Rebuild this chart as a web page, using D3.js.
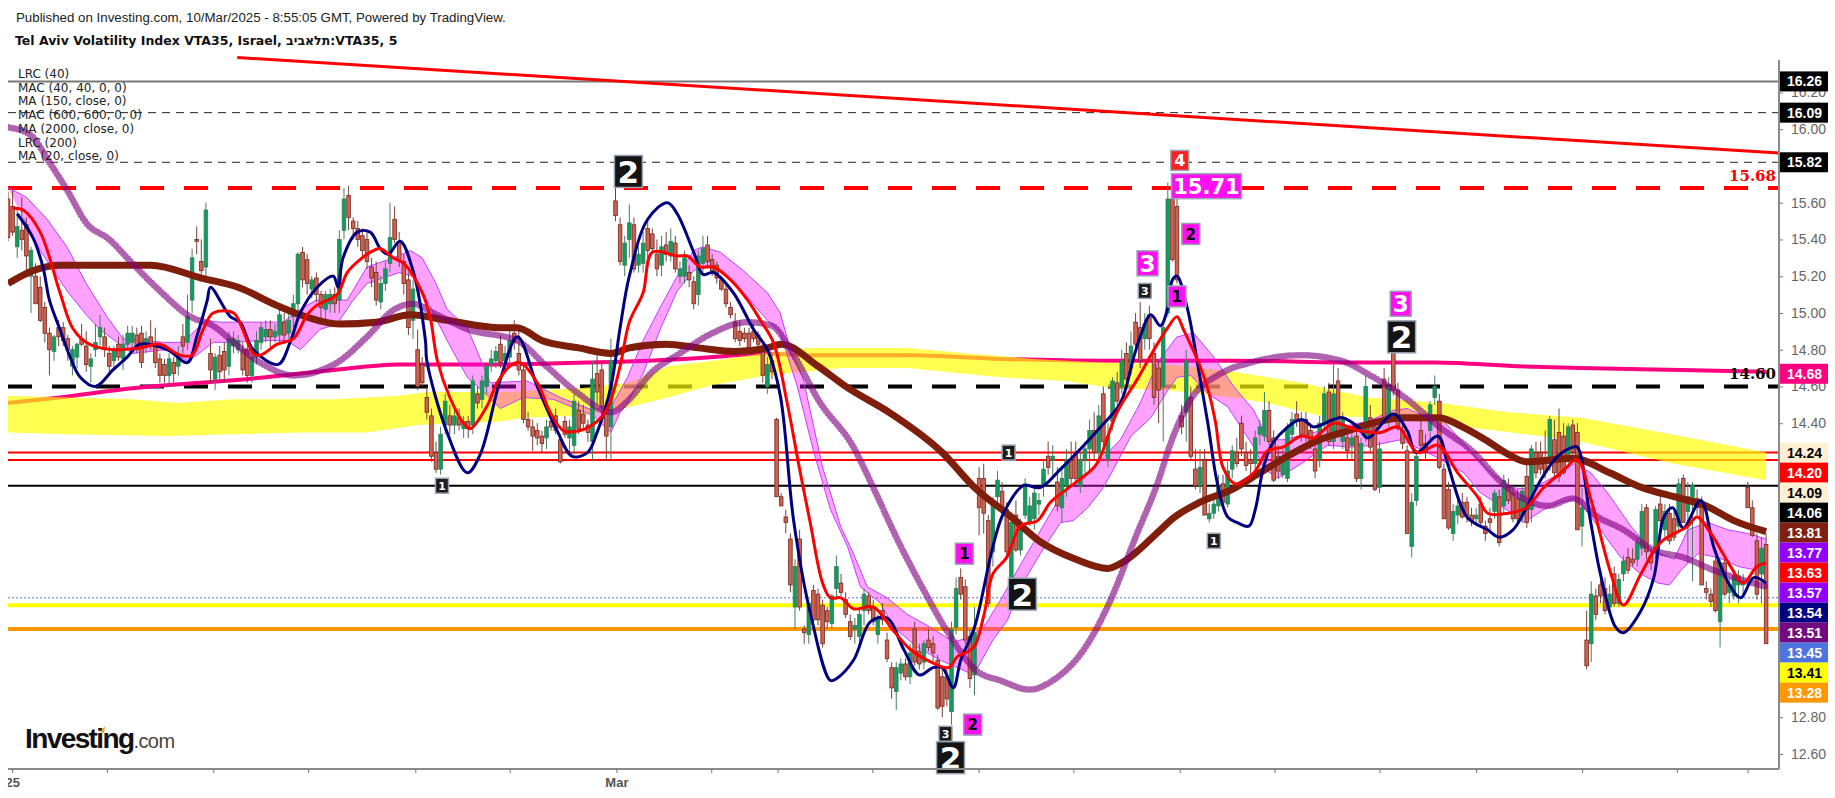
<!DOCTYPE html>
<html lang="en">
	<head>
		<meta charset="utf-8">
		<title>Tel Aviv Volatility Index VTA35</title>
		<script type="text/javascript" src="https://cdn.jsdelivr.net/npm/d3@7/dist/d3.min.js"></script>
		<style type="text/css">
			html, body { margin: 0; padding: 0; background: #fff; }
			svg { display: block; }
			text { font-family: "Liberation Sans", Arial, sans-serif; }
		</style>
	</head>
	<body>
		<script type="text/javascript">

			//Header and legend text
			var publishedText = "Published on Investing.com, 10/Mar/2025 - 8:55:05 GMT, Powered by TradingView.";
			var titleText = "Tel Aviv Volatility Index VTA35, Israel, תלאביב:VTA35, 5";
			var legendLines = ["LRC (40)", "MAC (40, 40, 0, 0)", "MA (150, close, 0)", "MAC (600, 600, 0, 0)", "MA (2000, close, 0)", "LRC (200)", "MA (20, close, 0)"];

			//Axis ticks (x in bar numbers, one bar = 10 minutes on this read-off)
			var priceTicks = [16.2, 16.0, 15.6, 15.4, 15.2, 15.0, 14.8, 14.6, 14.4, 12.8, 12.6];
			var barTicks = [0.9, 21.5, 44.6, 65.2, 88.5, 109, 132.2, 152.8, 167.2, 187.8, 210.9, 231.5, 254.6, 275.2, 298, 319, 342, 362.6, 378];
			var barTickNames = {0.9: "25", 132.2: "Mar"};

			//Horizontal levels
			var grayLevel = 16.26;
			var thinDashLevels = [16.09, 15.82];
			var redDashLevel = 15.68;
			var blackDashLevel = 14.60;
			var redLevels = [14.24, 14.20];
			var blackLevel = 14.06;
			var blueDotLevel = 13.45;
			var yellowLevel = 13.41;
			var orangeLevel = 13.28;

			//Red down trend line
			var trendLine = [[49.8, 16.39], [384.8, 15.87]];

			//Candles: open, high, low, close
			var candles = [
				[15.62,15.66,15.39,15.41],[15.58,15.67,15.42,15.44],[15.36,15.56,15.3,15.47],[15.45,15.63,15.34,15.4],[15.48,15.52,15.2,15.31],[15.2,15.36,15.0,15.34],[15.2,15.27,15.05,15.05],[15.14,15.2,14.95,14.96],[15.03,15.06,14.84,14.89],[14.89,14.92,14.66,14.8],
				[14.79,14.88,14.74,14.87],[14.92,14.96,14.82,14.87],[14.92,14.95,14.82,14.85],[14.86,14.88,14.74,14.8],[14.71,14.82,14.66,14.8],[14.76,14.84,14.7,14.83],[14.86,14.94,14.82,14.83],[14.82,14.9,14.68,14.72],[14.71,14.78,14.62,14.75],[14.8,14.94,14.76,14.84],
				[14.87,14.99,14.82,14.92],[14.87,14.92,14.76,14.8],[14.78,14.82,14.68,14.71],[14.74,14.82,14.7,14.79],[14.83,14.87,14.74,14.76],[14.75,14.88,14.69,14.83],[14.83,14.93,14.8,14.89],[14.84,14.93,14.8,14.89],[14.88,14.92,14.78,14.8],[14.89,14.93,14.7,14.73],
				[14.82,14.9,14.78,14.86],[14.87,14.96,14.8,14.82],[14.83,14.92,14.7,14.73],[14.75,14.78,14.62,14.66],[14.72,14.75,14.62,14.66],[14.66,14.78,14.6,14.75],[14.73,14.76,14.62,14.67],[14.71,14.82,14.66,14.78],[14.87,14.94,14.78,14.82],[14.84,15.1,14.8,14.98],
				[15.07,15.35,15.0,15.3],[15.4,15.47,15.32,15.39],[15.28,15.4,15.2,15.23],[15.25,15.6,15.2,15.56],[14.78,14.86,14.62,14.69],[14.64,14.78,14.58,14.76],[14.77,14.82,14.64,14.68],[14.79,14.84,14.62,14.69],[14.71,14.9,14.66,14.86],[14.82,14.9,14.78,14.86],
				[14.8,14.88,14.78,14.85],[14.8,14.84,14.66,14.69],[14.8,14.84,14.62,14.66],[14.66,14.78,14.62,14.76],[14.76,14.9,14.72,14.85],[14.84,14.95,14.8,14.92],[14.87,14.96,14.84,14.91],[14.91,14.96,14.8,14.87],[14.87,14.94,14.84,14.9],[14.88,15.05,14.84,14.99],
				[14.95,15.0,14.85,14.88],[14.89,15.0,14.86,14.96],[14.98,15.1,14.92,15.05],[15.05,15.33,15.0,15.32],[15.33,15.36,15.14,15.18],[15.29,15.32,15.1,15.16],[15.13,15.2,15.08,15.18],[15.19,15.22,15.06,15.1],[15.1,15.12,14.96,15.03],[15.02,15.12,14.94,15.1],
				[15.05,15.13,15.0,15.1],[15.1,15.14,15.0,15.05],[15.07,15.45,15.0,15.4],[15.45,15.68,15.4,15.62],[15.64,15.69,15.45,15.52],[15.5,15.52,15.4,15.46],[15.46,15.5,15.36,15.4],[15.42,15.46,15.3,15.34],[15.4,15.44,15.24,15.28],[15.25,15.3,15.14,15.19],
				[15.22,15.28,15.04,15.07],[15.06,15.2,15.02,15.16],[15.16,15.28,15.12,15.24],[15.27,15.6,15.22,15.41],[15.51,15.58,15.38,15.4],[15.39,15.44,15.25,15.28],[15.28,15.32,15.1,15.16],[15.18,15.22,14.88,14.92],[14.96,15.18,14.86,15.13],[14.8,14.91,14.58,14.6],
				[14.72,14.76,14.6,14.62],[14.54,14.6,14.42,14.46],[14.44,14.48,14.19,14.22],[14.24,14.3,14.13,14.15],[14.15,14.38,14.12,14.34],[14.39,14.56,14.34,14.52],[14.44,14.5,14.34,14.39],[14.39,14.48,14.34,14.44],[14.43,14.48,14.36,14.39],[14.37,14.44,14.32,14.41],
				[14.41,14.44,14.32,14.37],[14.39,14.66,14.34,14.63],[14.56,14.6,14.48,14.51],[14.53,14.66,14.48,14.63],[14.6,14.72,14.56,14.71],[14.72,14.8,14.68,14.75],[14.74,14.82,14.7,14.79],[14.83,14.88,14.7,14.73],[14.74,14.82,14.72,14.78],[14.76,14.92,14.72,14.85],
				[14.89,14.96,14.8,14.84],[14.78,14.92,14.66,14.69],[14.69,14.72,14.4,14.42],[14.42,14.46,14.36,14.38],[14.38,14.42,14.25,14.33],[14.36,14.4,14.28,14.32],[14.33,14.36,14.24,14.29],[14.32,14.42,14.26,14.38],[14.41,14.46,14.36,14.38],[14.44,14.48,14.34,14.36],
				[14.31,14.34,14.18,14.19],[14.41,14.44,14.32,14.34],[14.32,14.42,14.24,14.38],[14.28,14.56,14.23,14.52],[14.47,14.52,14.34,14.37],[14.45,14.5,14.36,14.4],[14.39,14.42,14.3,14.35],[14.3,14.74,14.2,14.64],[14.67,14.78,14.5,14.57],[14.69,14.74,14.42,14.49],
				[14.49,14.52,14.2,14.33],[14.38,14.86,14.2,14.74],[15.61,15.68,15.5,15.53],[15.48,15.52,15.26,15.28],[15.26,15.42,15.2,15.38],[15.4,15.59,15.3,15.49],[15.48,15.52,15.22,15.24],[15.26,15.36,15.22,15.32],[15.27,15.44,15.22,15.38],[15.46,15.52,15.3,15.34],
				[15.43,15.46,15.32,15.35],[15.32,15.4,15.2,15.24],[15.26,15.42,15.2,15.36],[15.37,15.44,15.28,15.32],[15.31,15.46,15.28,15.39],[15.38,15.42,15.22,15.24],[15.2,15.28,15.16,15.24],[15.2,15.34,15.16,15.3],[15.22,15.26,15.14,15.18],[15.17,15.2,15.02,15.05],
				[15.1,15.34,15.04,15.31],[15.27,15.42,15.22,15.35],[15.37,15.42,15.26,15.28],[15.29,15.32,15.2,15.23],[15.26,15.28,15.16,15.19],[15.18,15.2,15.12,15.13],[15.13,15.16,15.03,15.05],[15.03,15.06,14.97,14.99],[14.95,15.0,14.84,14.86],[14.9,14.96,14.82,14.85],
				[14.89,14.92,14.84,14.86],[14.89,14.92,14.78,14.81],[14.9,14.94,14.84,14.86],[14.88,14.9,14.8,14.83],[14.8,14.84,14.62,14.66],[14.6,14.76,14.56,14.72],[14.74,14.78,14.64,14.68],[14.42,14.43,14.0,14.0],[14.0,14.02,13.95,13.95],[13.89,13.93,13.8,13.86],
				[13.77,13.8,13.48,13.52],[13.4,13.66,13.28,13.62],[13.77,13.82,13.38,13.4],[13.28,13.3,13.2,13.26],[13.25,13.42,13.2,13.42],[13.49,13.52,13.3,13.33],[13.47,13.5,13.3,13.33],[13.41,13.44,13.18,13.2],[13.38,13.4,13.28,13.32],[13.31,13.47,13.28,13.46],
				[13.5,13.68,13.44,13.62],[13.53,13.58,13.46,13.48],[13.44,13.48,13.34,13.36],[13.32,13.36,13.22,13.24],[13.28,13.34,13.2,13.3],[13.24,13.4,13.2,13.36],[13.38,13.5,13.3,13.47],[13.46,13.48,13.36,13.38],[13.4,13.44,13.3,13.32],[13.25,13.36,13.2,13.34],
				[13.38,13.42,13.3,13.33],[13.22,13.26,13.1,13.12],[13.07,13.1,12.9,12.96],[12.94,13.1,12.84,13.07],[13.04,13.12,13,13.09],[13.09,13.12,13.0,13.02],[13.02,13.2,12.98,13.15],[13.28,13.32,13.08,13.1],[13.16,13.2,13.06,13.09],[13.1,13.22,13.06,13.2],
				[13.22,13.28,13.16,13.18],[13.2,13.24,13.1,13.15],[13.11,13.14,12.84,12.85],[13.02,13.08,12.8,12.86],[13.02,13.06,12.86,12.9],[12.83,13.32,12.76,13.28],[13.29,13.56,13.25,13.5],[13.56,13.61,13.44,13.47],[13.51,13.55,13.2,13.22],[13.24,13.28,12.96,13.01],
				[13.03,13.4,12.92,13.26],[14.1,14.16,13.79,13.94],[14.1,14.18,13.8,13.91],[13.87,13.9,13.4,13.42],[13.7,14.0,13.62,13.96],[14.0,14.14,13.94,14.09],[14.03,14.08,13.9,13.94],[13.93,13.97,13.68,13.7],[13.56,13.9,13.52,13.86],[13.9,13.98,13.7,13.71],
				[13.71,13.88,13.68,13.86],[13.9,14.1,13.88,14.07],[13.86,14.0,13.84,13.95],[13.88,14.06,13.82,14.02],[13.96,14.02,13.9,13.98],[14.06,14.2,14.0,14.15],[14.22,14.3,14.12,14.16],[14.2,14.28,14.1,14.22],[14.08,14.16,13.92,13.95],[13.94,14.16,13.86,14.1],
				[14.06,14.26,14.0,14.2],[14.2,14.3,14.05,14.1],[14.24,14.3,14.06,14.1],[14.06,14.24,14.02,14.2],[14.2,14.3,14.1,14.26],[14.26,14.42,14.14,14.36],[14.36,14.46,14.2,14.24],[14.24,14.5,14.2,14.44],[14.56,14.6,14.25,14.3],[14.2,14.4,14.16,14.33],
				[14.41,14.65,14.36,14.63],[14.62,14.68,14.5,14.52],[14.6,14.8,14.56,14.74],[14.78,14.84,14.62,14.64],[14.7,14.9,14.66,14.82],[14.95,15.0,14.8,14.83],[14.92,15.06,14.7,14.74],[14.86,15.0,14.8,14.94],[14.99,15.04,14.8,14.86],[14.78,14.84,14.5,14.54],
				[14.7,14.74,14.4,14.58],[14.6,14.94,14.3,14.92],[15.0,15.71,14.98,15.62],[15.62,15.68,15.28,15.29],[15.58,15.64,15.16,15.18],[14.44,14.5,14.34,14.38],[14.46,14.8,14.3,14.74],[14.54,14.6,14.2,14.22],[14.15,14.26,14.04,14.06],[14.06,14.26,14.02,14.16],
				[14.2,14.26,13.9,13.9],[13.88,13.96,13.86,13.91],[13.91,14.0,13.88,13.96],[13.95,14.12,13.92,14.06],[14.07,14.12,13.95,13.97],[13.96,14.2,13.94,14.14],[14.15,14.28,14.1,14.25],[14.24,14.32,14.16,14.18],[14.4,14.44,14.22,14.26],[14.24,14.3,14.14,14.17],
				[14.2,14.26,14.12,14.18],[14.18,14.36,14.14,14.32],[14.34,14.42,14.28,14.38],[14.33,14.57,14.3,14.47],[14.47,14.52,14.28,14.3],[14.32,14.36,14.08,14.09],[14.22,14.28,14.1,14.14],[14.12,14.26,14.1,14.2],[14.1,14.4,14.08,14.38],[14.34,14.46,14.3,14.42],
				[14.45,14.52,14.38,14.41],[14.41,14.46,14.3,14.34],[14.42,14.46,14.3,14.33],[14.36,14.4,14.26,14.28],[14.26,14.3,14.1,14.14],[14.2,14.44,14.16,14.4],[14.4,14.6,14.36,14.56],[14.57,14.62,14.28,14.3],[14.3,14.72,14.26,14.56],[14.63,14.7,14.32,14.33],
				[14.3,14.46,14.26,14.42],[14.32,14.36,14.2,14.25],[14.28,14.36,14.2,14.32],[14.33,14.36,14.08,14.1],[14.1,14.32,14.04,14.29],[14.33,14.66,14.3,14.6],[14.43,14.5,14.24,14.27],[14.38,14.42,14.03,14.04],[14.05,14.3,14.02,14.26],[14.64,14.7,14.4,14.41],
				[14.42,14.65,14.38,14.6],[14.8,14.82,14.55,14.58],[14.58,14.62,14.36,14.37],[14.36,14.4,14.26,14.29],[14.25,14.28,13.8,13.8],[13.73,14.02,13.67,13.97],[13.98,14.25,13.95,14.22],[14.36,14.44,14.25,14.28],[14.29,14.34,14.2,14.24],[14.36,14.52,14.3,14.5],
				[14.54,14.66,14.5,14.6],[14.52,14.56,14.15,14.16],[14.15,14.18,13.88,13.88],[14.04,14.08,13.82,13.83],[13.8,13.96,13.76,13.92],[13.9,14.0,13.85,13.95],[13.97,14.02,13.88,13.89],[13.97,14.0,13.86,13.9],[13.9,13.94,13.84,13.87],[13.88,13.94,13.84,13.9],
				[13.96,14.0,13.84,13.86],[13.84,13.87,13.76,13.8],[13.88,13.94,13.8,13.86],[13.92,14.04,13.88,14.02],[14.0,14.04,13.73,13.75],[13.95,14.12,13.9,14.09],[14.05,14.1,13.96,13.98],[14.02,14.06,13.86,13.88],[13.99,14.04,13.86,13.88],[13.9,14.06,13.86,14.03],
				[14.11,14.18,13.83,13.86],[13.93,14.28,13.86,14.26],[14.24,14.3,14.1,14.13],[14.24,14.3,14.12,14.15],[14.2,14.36,14.1,14.13],[14.18,14.44,14.14,14.42],[14.31,14.42,14.1,14.13],[14.35,14.48,14.08,14.11],[14.33,14.4,14.12,14.13],[14.22,14.4,14.18,14.38],
				[14.39,14.42,14.2,14.24],[14.35,14.4,13.82,13.82],[13.84,14.05,13.73,13.94],[13.22,13.38,13.06,13.08],[13.2,13.54,13.1,13.47],[13.46,13.5,13.33,13.36],[13.52,13.6,13.42,13.46],[13.5,13.56,13.36,13.38],[13.4,13.52,13.36,13.47],[13.58,13.62,13.4,13.42],
				[13.42,13.58,13.4,13.55],[13.58,13.68,13.54,13.65],[13.67,13.72,13.58,13.6],[13.66,13.72,13.62,13.64],[13.66,13.78,13.62,13.75],[13.72,13.96,13.68,13.92],[13.94,13.96,13.66,13.7],[13.68,13.72,13.6,13.64],[13.7,13.95,13.66,13.93],[13.96,14.02,13.84,13.87],
				[13.82,13.96,13.78,13.92],[13.91,13.96,13.74,13.76],[13.88,13.92,13.76,13.78],[13.84,14.1,13.8,14.07],[14.1,14.12,13.86,13.86],[13.92,14.08,13.64,14.0],[13.96,14.08,13.54,14.06],[13.99,14.04,13.9,13.94],[13.96,14.0,13.52,13.52],[13.5,13.54,13.44,13.48],
				[13.47,13.5,13.4,13.43],[13.65,13.68,13.37,13.38],[13.32,13.66,13.18,13.64],[13.64,13.68,13.46,13.47],[13.48,13.56,13.42,13.52],[13.46,13.6,13.44,13.57],[13.52,13.6,13.42,13.57],[13.52,13.58,13.46,13.54],[14.05,14.08,13.94,13.94],[13.94,13.98,13.78,13.79],
				[13.76,13.8,13.44,13.47],[13.58,13.78,13.42,13.72],[13.74,13.8,13.2,13.2]
			];

			//Moving averages: [bar number, price]
			var navyLine = [[2,15.54],[5.4,15.41],[7.6,15.25],[9,15.07],[11.3,14.91],[13.5,14.76],[15.7,14.65],[19,14.6],[22.8,14.69],[25.9,14.76],[28.7,14.83],[34.6,14.8],[39,14.73],[41,14.87],[43.3,15.07],[44,15.14],[48.3,14.98],[50.4,14.95],[53.3,14.8],[58.7,14.72],[61.3,14.84],[63.5,15.0],[67.2,15.14],[70.7,15.2],[71.7,15.14],[72.8,15.3],[75.9,15.44],[78.7,15.44],[80.9,15.35],[82.6,15.32],[85.2,15.39],[88,15.23],[90.7,14.85],[91,14.74],[95.4,14.35],[99.8,14.13],[102.6,14.23],[107,14.64],[110.7,14.87],[115,14.6],[119.3,14.36],[122.6,14.22],[125.9,14.24],[128,14.35],[131,14.6],[133,14.92],[135,15.2],[139,15.51],[143.3,15.6],[145.4,15.54],[149,15.33],[151,15.21],[153.3,15.22],[157.6,15.11],[162,14.91],[165,14.8],[167.8,14.55],[170.7,13.87],[174.3,13.37],[178.7,13.0],[180,13.01],[183.7,13.11],[187.4,13.32],[191,13.34],[194.6,13.17],[198,13.03],[201,13.07],[203,13.07],[205.4,12.96],[207,13.11],[210,13.29],[214,13.73],[216.3,13.91],[220.6,14.06],[224.3,14.05],[228.7,14.15],[237.4,14.38],[241.7,14.51],[244.6,14.76],[246,14.87],[248.3,14.99],[250.4,14.93],[252,15.03],[253,15.18],[254,15.2],[256.3,15.02],[258.5,14.72],[260.7,14.4],[262.8,14.07],[265,13.89],[267,13.86],[269.6,13.84],[271,13.93],[272.8,14.16],[275,14.3],[281,14.42],[283.7,14.38],[288,14.42],[290,14.43],[293.3,14.38],[295.4,14.32],[301,14.45],[304,14.36],[306,14.24],[310.7,14.33],[312.8,14.18],[317,13.89],[321.5,13.82],[324,13.78],[327,13.82],[329.3,13.91],[333,14.09],[336.7,14.22],[340,14.27],[341,14.27],[343.9,13.86],[346,13.58],[349.3,13.29],[351,13.26],[354.8,13.38],[357.6,13.56],[359.8,13.89],[361.7,13.94],[364,13.83],[367.8,13.98],[370.7,13.72],[374.3,13.51],[376.5,13.45],[379.3,13.56],[382,13.53]];

			var redLine = [[1,15.57],[3.3,15.56],[7,15.44],[11.3,15.11],[14,14.92],[17,14.84],[20,14.81],[23.7,14.8],[28.7,14.81],[33,14.83],[37.4,14.77],[40,14.77],[42.4,14.91],[44.6,15.0],[49,15.0],[51,14.91],[53.3,14.78],[54.8,14.77],[58.5,14.83],[62,14.86],[65,14.99],[67,15.04],[71.5,15.1],[73.7,15.22],[76.5,15.29],[78.7,15.33],[80.9,15.35],[83.7,15.3],[86,15.27],[90,15.11],[91.7,14.98],[93.3,14.74],[96,14.54],[99,14.4],[100.4,14.37],[104,14.49],[106.3,14.62],[109,14.71],[111.3,14.73],[115,14.62],[117.8,14.46],[120.7,14.36],[124.3,14.36],[128,14.41],[130.4,14.49],[133,14.71],[135,14.95],[138,15.11],[140,15.33],[145.4,15.31],[147.6,15.31],[150.4,15.25],[153.3,15.25],[157,15.18],[160.7,15.07],[163.5,14.96],[166.3,14.84],[169.3,14.51],[172,14.15],[174.3,13.86],[177,13.53],[178.7,13.45],[181,13.45],[183.7,13.39],[188,13.4],[192.4,13.27],[196,13.17],[199.8,13.11],[204.3,13.07],[206.3,13.13],[209.8,13.18],[212,13.35],[214,13.58],[217,13.67],[220,13.84],[223.7,13.87],[226.5,13.97],[230,14.04],[236,14.16],[237.4,14.22],[241,14.46],[245.4,14.64],[249,14.8],[252,14.92],[254,14.98],[255.4,14.91],[259,14.71],[261,14.56],[262.4,14.4],[264,14.16],[266.7,14.07],[270.7,14.13],[273.7,14.25],[277,14.27],[281,14.33],[283.7,14.32],[288,14.4],[293.3,14.36],[298.3,14.35],[302,14.38],[306.3,14.24],[310.7,14.28],[315,14.13],[319.3,14.0],[321.5,13.91],[326,13.91],[329.8,13.94],[333.7,14.05],[337.4,14.13],[341,14.2],[344,13.98],[348.3,13.58],[351,13.41],[354.8,13.58],[359,13.75],[365,13.84],[367,13.89],[370,13.8],[374.3,13.62],[377,13.53],[380,13.62],[382,13.64]];

			var brownLine = [[0,15.16],[5.4,15.23],[11.3,15.26],[31,15.26],[42,15.19],[50,15.14],[58.5,15.04],[63.5,14.99],[72,14.94],[80,14.95],[87.4,14.99],[95.4,14.96],[107,14.92],[110.6,14.92],[116,14.85],[124,14.81],[131,14.78],[135,14.81],[143,14.83],[150,14.81],[158,14.79],[165,14.81],[168,14.83],[176,14.71],[182,14.6],[192,14.45],[203,14.24],[210,14.05],[218,13.89],[224,13.76],[232,13.66],[239,13.61],[242,13.64],[250,13.81],[253,13.88],[259,13.97],[266,14.04],[272,14.13],[278,14.22],[285,14.31],[290,14.35],[298,14.41],[303,14.43],[311,14.43],[316,14.38],[321,14.31],[326,14.23],[330,14.19],[340,14.21],[348,14.13],[355,14.05],[362,14.0],[369,13.95],[375,13.87],[382,13.81]];

			var purpleLine = [[0,16.01],[4.8,15.97],[9,15.82],[12.8,15.67],[17,15.49],[22,15.4],[27,15.27],[33,15.12],[39.6,14.98],[44.6,14.93],[49,14.84],[54.8,14.73],[62,14.66],[71.5,14.73],[78,14.87],[84,15.02],[88,15.05],[92.4,15.0],[100,14.91],[110.6,14.85],[117,14.71],[124,14.56],[131,14.46],[135,14.53],[139.6,14.67],[146,14.78],[153,14.89],[160.6,14.95],[166,14.93],[170,14.8],[176.5,14.51],[183.7,14.27],[188,14.05],[193,13.78],[199,13.49],[204,13.27],[210.6,13.05],[215.6,13.0],[222,12.95],[227,13.0],[234.6,13.2],[239.6,13.44],[245,13.78],[250,14.09],[252.6,14.29],[257,14.53],[263.5,14.67],[270,14.73],[281,14.77],[289.6,14.74],[296.7,14.65],[304,14.53],[311,14.38],[318.5,14.24],[324,14.09],[330,13.98],[334.6,13.95],[340,13.99],[345.4,13.89],[351,13.82],[357.6,13.71],[364,13.67],[370.6,13.6],[376.5,13.55],[382,13.51]];

			var pinkLine = [[0,14.51],[11.3,14.54],[27,14.59],[41.7,14.62],[56,14.65],[70.7,14.69],[85,14.72],[107,14.72],[125.8,14.73],[139,14.74],[153.3,14.76],[164,14.78],[173.7,14.77],[195.4,14.77],[215.6,14.75],[237.4,14.74],[266.3,14.74],[295.4,14.73],[310,14.73],[328,14.71],[341.7,14.7],[363.5,14.69],[382,14.68]];

			//Band from the 40 bar channel
			var magentaUpper = [[0,15.68],[1,15.67],[4,15.63],[8.5,15.51],[12.8,15.36],[17,15.16],[21.5,14.98],[25,14.86],[33.7,14.84],[38,14.84],[43,14.96],[46,14.95],[54.8,14.95],[59.8,14.95],[63.5,15.02],[67,15.07],[73.7,15.07],[78,15.25],[83.7,15.3],[87.4,15.34],[90,15.3],[93,15.16],[95.4,15.02],[99.8,14.92],[103.3,14.71],[104.8,14.62],[112.8,14.63],[120,14.54],[127.2,14.47],[131.5,14.51],[134.6,14.65],[138,14.85],[141.7,15.03],[145.4,15.2],[149,15.34],[150.9,15.36],[154.8,15.33],[159.8,15.23],[165,15.11],[167.8,15.0],[170,14.8],[172.8,14.64],[177,14.16],[180.9,13.84],[183.7,13.69],[186.7,13.51],[191,13.45],[195.4,13.36],[200.4,13.29],[205.4,13.21],[208.5,13.23],[212,13.29],[215.7,13.44],[219.3,13.6],[222.8,13.75],[227.2,13.94],[229.3,14.02],[233,14.09],[237.4,14.2],[241.7,14.31],[246,14.51],[250,14.74],[254,14.87],[257.6,14.89],[262,14.76],[266.3,14.6],[270.7,14.47],[273.7,14.31],[277,14.31],[283.7,14.35],[289.6,14.38],[295.4,14.41],[301,14.47],[304,14.48],[308.5,14.43],[312,14.41],[316.3,14.29],[321.5,14.15],[326.5,14.05],[330.9,14.04],[337.4,14.13],[340.3,14.18],[343.9,14.13],[347.6,14.02],[352.6,13.84],[357,13.71],[362,13.66],[365,13.82],[369.3,13.86],[373.7,13.82],[378,13.8],[382,13.77]];
			var magentaLower = [[3.3,15.52],[7,15.34],[12.8,15.12],[17,14.99],[20,14.91],[23.7,14.84],[27,14.78],[34.6,14.8],[39,14.74],[41,14.77],[44.6,14.84],[49,14.84],[54.8,14.85],[60.6,14.85],[63.5,14.8],[67.8,14.91],[71.5,14.94],[75,15.07],[78,15.16],[85,15.22],[88,15.2],[91,15.07],[95.4,14.85],[99.8,14.65],[103.3,14.57],[107,14.48],[112,14.54],[118.5,14.53],[124.3,14.47],[127.2,14.44],[131,14.35],[133,14.46],[134.6,14.51],[138,14.67],[141.7,14.91],[145.4,15.12],[149,15.23],[152,15.26],[154.8,15.23],[159.8,15.11],[165,14.96],[167.8,14.89],[171.5,14.6],[175,14.25],[178.7,13.93],[182.4,13.73],[185.2,13.51],[189.6,13.42],[192.4,13.29],[197.6,13.18],[202.6,13.11],[209,13.04],[210.7,13.07],[214,13.22],[217.2,13.33],[220,13.51],[224.3,13.69],[228.7,13.86],[231.5,13.87],[234.6,13.94],[238,14.05],[240.2,14.15],[244,14.33],[248.3,14.43],[252,14.58],[254,14.65],[257,14.66],[260.7,14.56],[265,14.49],[270.7,14.27],[273,14.15],[275.9,14.1],[281,14.18],[286.7,14.28],[291.7,14.27],[296.7,14.28],[302.6,14.31],[310,14.22],[316.3,14.13],[320,14.02],[325,13.94],[329.3,13.86],[333.7,13.93],[337.4,13.97],[341,13.99],[345.4,13.84],[350.4,13.67],[354.8,13.58],[358.5,13.53],[361,13.52],[363.5,13.6],[367.2,13.69],[371.5,13.67],[376,13.62],[380,13.6],[382,13.57]];

			//Band from the 600 bar channel
			var yellowUpper = [[0,14.55],[27,14.53],[36.7,14.51],[49,14.53],[70.7,14.53],[78,14.54],[85,14.55],[91,14.57],[107,14.57],[124.3,14.59],[135,14.62],[143.3,14.71],[153.3,14.74],[164,14.78],[174,14.81],[195.4,14.81],[208.5,14.78],[222.8,14.75],[237.4,14.73],[252,14.72],[266.3,14.68],[281,14.62],[295.4,14.54],[311.3,14.51],[325.9,14.46],[341.7,14.43],[357,14.36],[382,14.24]];
			var yellowLower = [[0,14.35],[12.8,14.34],[34.6,14.33],[49,14.34],[63.5,14.35],[78,14.35],[89,14.39],[107,14.41],[112,14.43],[124.3,14.44],[133.7,14.48],[143.3,14.54],[153.3,14.61],[165,14.66],[181,14.7],[195.4,14.7],[215.6,14.65],[230,14.63],[240.2,14.59],[252,14.58],[266.3,14.54],[273.7,14.51],[285,14.44],[299,14.43],[310,14.4],[330,14.34],[341.7,14.3],[362,14.18],[382,14.09]];

			//Badges: [bar number, price, text]
			var bigBlackBadges = [[134.8,15.77,"2"],[220.4,13.47,"2"],[204.8,12.58,"2"],[302.8,14.87,"2"]];
			var smallBlackBadges = [[94.3,14.06,"1"],[217.4,14.24,"1"],[262,13.76,"1"],[203.7,12.71,"3"],[247,15.12,"3"]];
			var magentaBadges = [[207.8,13.69,"1"],[209.6,12.76,"2"],[254,15.09,"1"],[257,15.43,"2"]];
			var magentaWhiteBadges = [[247.6,15.27,"3"],[302.6,15.05,"3"]];
			var redBadges = [[254.6,15.83,"4"]];
			var peakBadges = [[260.4,15.69,"15.71"]];

			//Right hand price labels
			var topLabels = ["16.26", "16.09", "15.82", "14.68"];
			var topLabelColors = ["#000", "#000", "#000", "#ff0080"];
			var stackLabels = ["14.24", "14.20", "14.09", "14.06", "13.81", "13.77", "13.63", "13.57", "13.54", "13.51", "13.45", "13.41", "13.28"];
			var stackLabelColors = ["#fff0d4", "#ff0000", "#fff0d4", "#000", "#802010", "#9400ff", "#ff0000", "#9400ff", "#000080", "#730a80", "#4f74e0", "#ffff00", "#ff9800"];
			var stackLabelInk = ["#000", "#fff", "#000", "#fff", "#fff", "#fff", "#fff", "#fff", "#fff", "#fff", "#fff", "#000", "#fff"];

			//Width and height
			var w = 1835;
			var h = 798;
			var plotLeft = 8;
			var plotRight = 1779;
			var plotBottom = 769;

			var xScale = d3.scaleLinear().domain([0, 384.8]).range([plotLeft, plotRight]);
			var yScale = d3.scaleLinear().domain([15.68, 12.60]).range([188, 754]);

			var svg = d3.select("body")
						.append("svg")
						.attr("width", w)
						.attr("height", h);

			svg.append("clipPath").attr("id", "plotClip")
				.append("rect").attr("x", plotLeft).attr("y", 0).attr("width", plotRight - plotLeft).attr("height", h);

			var plot = svg.append("g").attr("clip-path", "url(#plotClip)");

			var line = d3.line()
				.x(function(d) { return xScale(d[0]); })
				.y(function(d) { return yScale(d[1]); });
			var smooth = d3.line()
				.x(function(d) { return xScale(d[0]); })
				.y(function(d) { return yScale(d[1]); })
				.curve(d3.curveMonotoneX);
			var rounded = d3.line()
				.x(function(d) { return xScale(d[0]); })
				.y(function(d) { return yScale(d[1]); })
				.curve(d3.curveCatmullRom.alpha(0.5));

			//Horizontal levels
			function level(value, color, width, dash) {
				plot.append("line")
					.attr("x1", plotLeft).attr("x2", plotRight)
					.attr("y1", yScale(value)).attr("y2", yScale(value))
					.attr("stroke", color)
					.attr("stroke-width", width)
					.attr("stroke-dasharray", dash);
			}
			level(grayLevel, "#787878", 2, null);
			thinDashLevels.forEach(function(v) { level(v, "#222", 1, "8 6"); });
			level(redDashLevel, "#ff0000", 4, "24 20");
			level(blackDashLevel, "#000", 4, "24 20");
			redLevels.forEach(function(v) { level(v, "#ff0000", 2, null); });
			level(blackLevel, "#000", 2, null);
			level(blueDotLevel, "#4f74e0", 1, "2 2");
			level(yellowLevel, "#ffff00", 4, null);
			level(orangeLevel, "#ff9800", 4, null);

			//Pink line sits under the yellow band
			plot.append("path").attr("d", smooth(pinkLine))
				.attr("fill", "none").attr("stroke", "#ff0080").attr("stroke-width", 4);

			function band(upper, lower) {
				return line(upper) + "L" + line(lower.slice().reverse()).slice(1) + "Z";
			}

			plot.append("path").attr("d", band(yellowUpper, yellowLower))
				.attr("fill", "#ffff00").attr("fill-opacity", 0.68);

			plot.append("path").attr("d", band(magentaUpper, magentaLower))
				.attr("fill", "#ff00ff").attr("fill-opacity", 0.37);
			[magentaUpper, magentaLower].forEach(function(edge) {
				plot.append("path").attr("d", line(edge))
					.attr("fill", "none").attr("stroke", "#bf40ff").attr("stroke-width", 1);
			});

			//Candles
			var candleGroup = plot.append("g");
			candleGroup.selectAll("line")
				.data(candles)
				.enter()
				.append("line")
				.attr("x1", function(d, i) { return xScale(i); })
				.attr("x2", function(d, i) { return xScale(i); })
				.attr("y1", function(d) { return yScale(d[1]); })
				.attr("y2", function(d) { return yScale(d[2]); })
				.attr("stroke", function(d) { return d[3] >= d[0] ? "#467d64" : "#7a4038"; })
				.attr("stroke-width", 1);
			candleGroup.selectAll("rect")
				.data(candles)
				.enter()
				.append("rect")
				.attr("x", function(d, i) { return xScale(i) - 1.8; })
				.attr("y", function(d) { return yScale(Math.max(d[0], d[3])); })
				.attr("width", 3.6)
				.attr("height", function(d) { return Math.max(1, Math.abs(yScale(d[0]) - yScale(d[3]))); })
				.attr("fill", function(d) { return d[3] >= d[0] ? "#109c5c" : "#d0604f"; })
				.attr("stroke", function(d) { return d[3] >= d[0] ? "#3a7a5c" : "#6e2b22"; })
				.attr("stroke-width", 0.8);

			//Moving averages
			plot.append("path").attr("d", smooth(brownLine))
				.attr("fill", "none").attr("stroke", "#801e0c").attr("stroke-width", 7);
			plot.append("path").attr("d", smooth(purpleLine))
				.attr("fill", "none").attr("stroke", "#800080").attr("stroke-opacity", 0.62)
				.attr("stroke-width", 6.5).attr("stroke-linecap", "round").attr("stroke-dasharray", "0 3.4");
			plot.append("path").attr("d", rounded(navyLine))
				.attr("fill", "none").attr("stroke", "#000080").attr("stroke-width", 3).attr("stroke-linejoin", "round");
			plot.append("path").attr("d", rounded(redLine))
				.attr("fill", "none").attr("stroke", "#ff0000").attr("stroke-width", 3).attr("stroke-linejoin", "round");
			plot.append("path").attr("d", line(trendLine))
				.attr("fill", "none").attr("stroke", "#ff0000").attr("stroke-width", 3);

			//Level captions
			function levelCaption(value, color, text) {
				plot.append("text")
					.attr("x", plotRight - 3)
					.attr("y", yScale(value) - 7)
					.attr("text-anchor", "end")
					.style("font-family", "'DejaVu Serif', serif")
					.style("font-weight", "bold")
					.style("font-size", "15px")
					.attr("fill", color)
					.text(text);
			}
			levelCaption(redDashLevel, "#ff0000", "15.68");
			levelCaption(blackDashLevel, "#000", "14.60");

			//Badges
			function badges(rows, bw, bh, fill, ink, size) {
				var g = svg.append("g").selectAll("g")
					.data(rows)
					.enter()
					.append("g")
					.attr("transform", function(d) { return "translate(" + xScale(d[0]) + "," + yScale(d[1]) + ")"; });
				g.append("rect")
					.attr("x", -bw / 2).attr("y", -bh / 2)
					.attr("width", bw).attr("height", bh)
					.attr("fill", fill)
					.attr("stroke", "#9aa6b6")
					.attr("stroke-width", 1.5);
				g.append("text")
					.attr("text-anchor", "middle")
					.attr("dy", "0.37em")
					.style("font-family", "'DejaVu Sans', sans-serif")
					.style("font-weight", "bold")
					.style("font-size", size + "px")
					.attr("fill", ink)
					.text(function(d) { return d[2]; });
			}
			badges(bigBlackBadges, 28, 32, "#141414", "#fff", 31);
			badges(smallBlackBadges, 13, 15, "#1c1c1c", "#fff", 11);
			badges(magentaBadges, 18, 21, "#ff10f0", "#000", 15);
			badges(magentaWhiteBadges, 21, 25, "#ff10f0", "#fff", 23);
			badges(redBadges, 18, 20, "#ff2020", "#fff", 16);
			badges(peakBadges, 70, 25, "#ff10f0", "#fff", 21);

			//Axes
			var yAxis = d3.axisRight(yScale)
				.tickValues(priceTicks)
				.tickFormat(d3.format(".2f"))
				.tickSize(4)
				.tickPadding(8);
			var yAxisG = svg.append("g").attr("transform", "translate(" + plotRight + ",0)").call(yAxis);
			yAxisG.select(".domain").remove();
			yAxisG.selectAll("line").attr("stroke", "#777");
			yAxisG.selectAll("text").attr("fill", "#666").style("font-size", "14px");

			svg.append("line").attr("x1", plotRight).attr("x2", plotRight).attr("y1", 60).attr("y2", plotBottom)
				.attr("stroke", "#8a8a8a").attr("stroke-width", 2);
			svg.append("line").attr("x1", plotLeft).attr("x2", plotRight).attr("y1", plotBottom).attr("y2", plotBottom)
				.attr("stroke", "#8a8a8a").attr("stroke-width", 2);

			var xAxis = d3.axisBottom(xScale)
				.tickValues(barTicks)
				.tickFormat(function(d) { return barTickNames[d] || ""; })
				.tickSize(4)
				.tickPadding(5);
			var xAxisG = svg.append("g")
				.attr("transform", "translate(0," + plotBottom + ")")
				.attr("clip-path", "url(#plotClip)")
				.call(xAxis);
			xAxisG.select(".domain").remove();
			xAxisG.selectAll("line").attr("stroke", "#777");
			xAxisG.selectAll("text").attr("fill", "#555").style("font-size", "13px").style("font-weight", "bold");

			//Price labels on the right
			var labelGroup = svg.append("g");
			function priceLabel(y, bh, text, fill, ink) {
				labelGroup.append("rect")
					.attr("x", plotRight + 1).attr("y", y - bh / 2)
					.attr("width", 48).attr("height", bh)
					.attr("fill", fill);
				labelGroup.append("text")
					.attr("x", plotRight + 8).attr("y", y)
					.attr("dy", "0.36em")
					.attr("fill", ink)
					.style("font-size", "14px")
					.style("font-weight", "bold")
					.text(text);
			}
			topLabels.forEach(function(t, i) {
				priceLabel(yScale(+t) + (t === "14.68" ? 2 : 0), 20, t, topLabelColors[i], "#fff");
			});
			stackLabels.forEach(function(t, i) {
				priceLabel(yScale(14.24) + i * 20, 20, t, stackLabelColors[i], stackLabelInk[i]);
			});

			//Header text
			svg.append("text").attr("x", 16).attr("y", 22).attr("fill", "#222").style("font-size", "13.3px").text(publishedText);
			svg.append("text").attr("x", 15).attr("y", 45).attr("fill", "#111")
				.style("font-family", "'DejaVu Sans', sans-serif")
				.style("font-weight", "bold")
				.style("font-size", "12.5px")
				.text(titleText);

			//Study list
			svg.append("g").selectAll("text")
				.data(legendLines)
				.enter()
				.append("text")
				.attr("x", 18)
				.attr("y", function(d, i) { return 78 + i * 13.7; })
				.attr("fill", "#222")
				.style("font-family", "'DejaVu Sans', sans-serif")
				.style("font-size", "12px")
				.text(function(d) { return d; });

			//Logo
			var logo = svg.append("text").attr("x", 25).attr("y", 748);
			logo.append("tspan").text("Investing")
				.attr("fill", "#111")
				.style("font-size", "28px").style("font-weight", "bold").style("letter-spacing", "-1.6px");
			logo.append("tspan").text(".com")
				.attr("fill", "#444")
				.style("font-size", "20px").style("letter-spacing", "-0.6px");
			svg.append("path").attr("d", "M100,732 L105,726 L104,733 Z").attr("fill", "#f79a1e");

		</script>
	</body>
</html>
